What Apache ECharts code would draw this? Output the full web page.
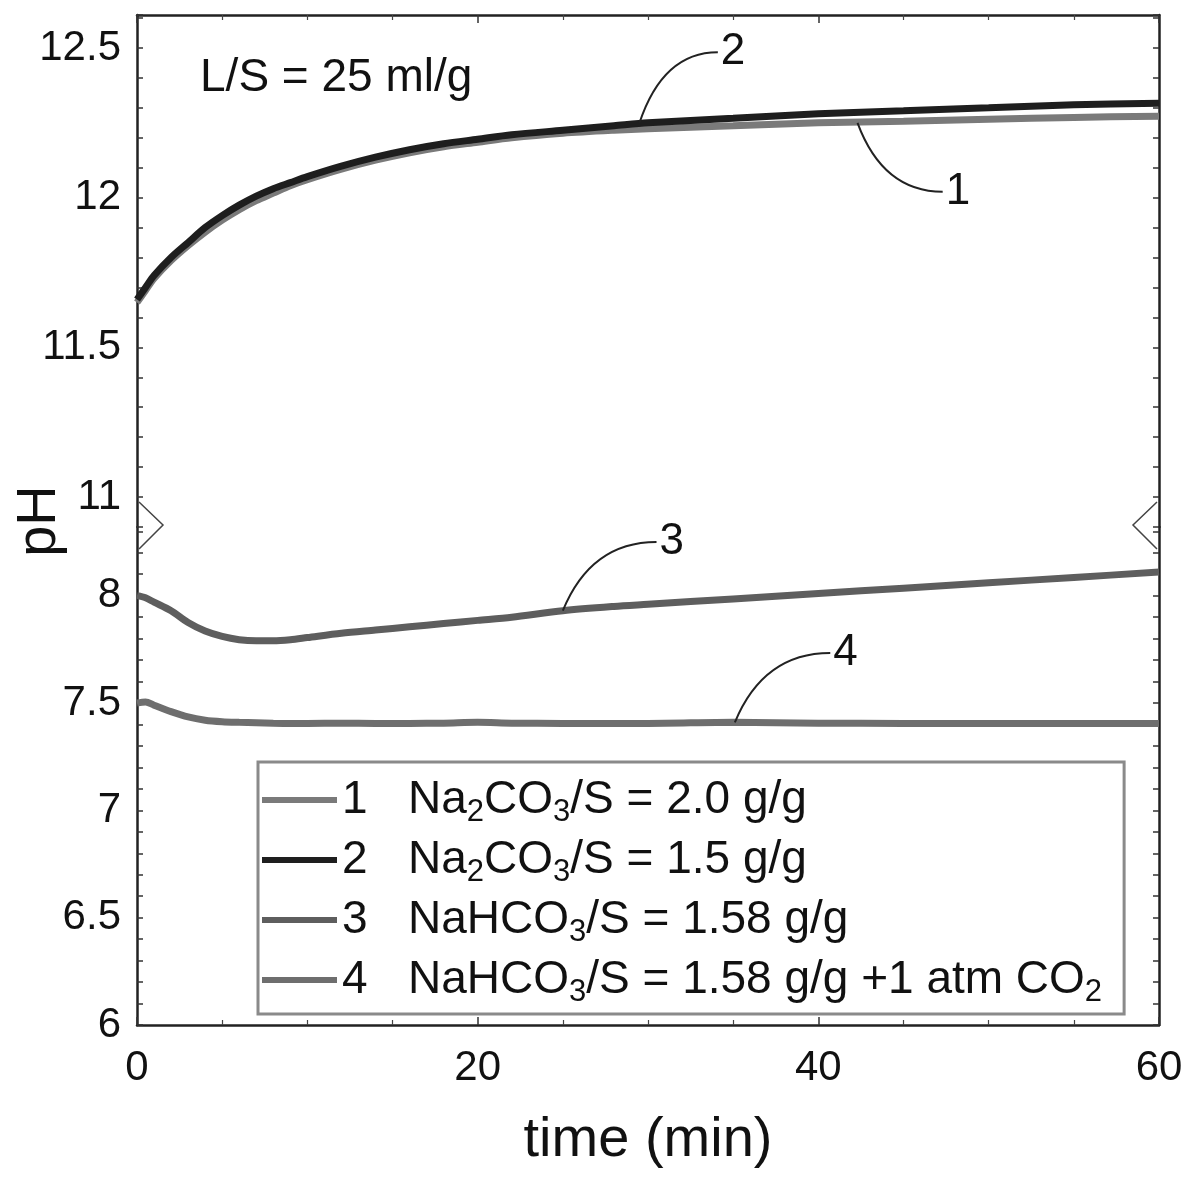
<!DOCTYPE html>
<html>
<head>
<meta charset="utf-8">
<script src="https://cdn.jsdelivr.net/npm/echarts@6/dist/echarts.min.js"></script>
<style>
  html, body { margin: 0; padding: 0; background: #fff; }
  #main { width: 1186px; height: 1191px; }
</style>
</head>
<body>
<div id="main"></div>
<script>
// time (min)
var time = [0, 0.5, 1, 2, 3, 4, 5, 6, 7, 8, 9, 10, 12, 14, 16, 18, 20, 22, 25, 28, 30, 35, 40, 45, 50, 55, 60];

// pH, upper panel
var ph1 = [11.65, 11.69, 11.73, 11.79, 11.84, 11.885, 11.925, 11.96, 11.99, 12.015, 12.04, 12.06, 12.095, 12.125, 12.15, 12.17, 12.185, 12.2, 12.215, 12.225, 12.23, 12.24, 12.25, 12.255, 12.262, 12.268, 12.272];
var ph2 = [11.66, 11.70, 11.74, 11.80, 11.85, 11.90, 11.94, 11.975, 12.005, 12.03, 12.05, 12.07, 12.105, 12.135, 12.16, 12.18, 12.195, 12.21, 12.225, 12.24, 12.25, 12.265, 12.28, 12.29, 12.30, 12.31, 12.315];
// pH, lower panel
var ph3 = [8.0, 7.99, 7.97, 7.93, 7.875, 7.835, 7.81, 7.795, 7.79, 7.79, 7.795, 7.805, 7.825, 7.84, 7.855, 7.87, 7.885, 7.90, 7.93, 7.95, 7.96, 7.985, 8.01, 8.035, 8.06, 8.085, 8.11];
var ph4 = [7.5, 7.505, 7.49, 7.46, 7.435, 7.42, 7.413, 7.41, 7.408, 7.406, 7.405, 7.405, 7.406, 7.405, 7.405, 7.406, 7.41, 7.406, 7.405, 7.405, 7.405, 7.41, 7.406, 7.405, 7.405, 7.405, 7.405];

var names = ['Na2CO3/S = 2.0 g/g', 'Na2CO3/S = 1.5 g/g', 'NaHCO3/S = 1.58 g/g', 'NaHCO3/S = 1.58 g/g +1 atm CO2'];
var richNames = ['Na{s|2}CO{s|3}/S = 2.0 g/g', 'Na{s|2}CO{s|3}/S = 1.5 g/g', 'NaHCO{s|3}/S = 1.58 g/g', 'NaHCO{s|3}/S = 1.58 g/g +1 atm CO{s|2}'];
var nums = ['1', '2', '3', '4'];
var colors = ['#7a7a7a', '#1e1e1e', '#5e5e5e', '#6e6e6e'];

// curve labels: point on curve -> end of leader (time, pH)
var tagFrom = [[42.3, 12.25], [29.5, 12.25], [25, 7.93], [35.1, 7.41]];
var tagTo = [[47.3, 12.02], [34.1, 12.486], [30.5, 8.25], [40.7, 7.733]];
var tagPanel = [0, 0, 1, 1];

var FONT = "'Liberation Sans', Arial, sans-serif";
var INK = '#111';

var chart = echarts.init(document.getElementById('main'));

function pairs(ys) {
  return time.map(function (t, i) { return [t, ys[i]]; });
}

function phLabel(v) {
  if (Math.abs(v * 2 - Math.round(v * 2)) < 1e-6) return String(+v.toFixed(1));
  return '';
}

function yAx(grid, min, max, pos) {
  return {
    type: 'value', gridIndex: grid, position: pos, min: min, max: max, interval: 0.1,
    axisLine: { show: true, lineStyle: { color: '#222', width: 2.5 } },
    axisTick: { show: true, inside: true, length: 6, lineStyle: { color: '#333', width: 1.5 } },
    axisLabel: {
      show: pos === 'left', margin: 16, fontSize: 42, color: INK, fontFamily: FONT,
      showMinLabel: true, showMaxLabel: true, formatter: phLabel
    },
    splitLine: { show: false }
  };
}

function xAx(grid, pos) {
  return {
    type: 'value', gridIndex: grid, position: pos, min: 0, max: 60, interval: 20,
    axisLine: { show: true, lineStyle: { color: '#222', width: 2.5 } },
    axisTick: { show: true, inside: true, length: 8, lineStyle: { color: '#333', width: 1.5 } },
    minorTick: { show: true, splitNumber: 4, length: 5, lineStyle: { color: '#444', width: 1.2 } },
    axisLabel: { show: pos === 'bottom', margin: 22, fontSize: 42, color: INK, fontFamily: FONT },
    splitLine: { show: false },
    name: pos === 'bottom' ? 'time (min)' : '',
    nameLocation: 'middle', nameGap: 88,
    nameTextStyle: { fontSize: 56, color: INK, fontFamily: FONT }
  };
}

function line(i, grid, ys) {
  return {
    name: names[i], type: 'line', xAxisIndex: grid, yAxisIndex: grid * 2,
    data: pairs(ys), smooth: 0.3, showSymbol: false, symbol: 'none',
    lineStyle: { color: colors[i], width: 7 }, itemStyle: { color: colors[i] },
    z: i === 1 ? 4 : 3
  };
}

var option = {
  backgroundColor: '#fff',
  animation: false,
  grid: [
    { left: 137, right: 27, top: 15, height: 512, outerBoundsMode: 'none' },
    { left: 137, right: 27, top: 527, height: 498, outerBoundsMode: 'none' }
  ],
  xAxis: [xAx(0, 'top'), xAx(1, 'bottom')],
  yAxis: [
    yAx(0, 10.9, 12.61, 'left'), yAx(0, 10.9, 12.61, 'right'),
    yAx(1, 6, 8.32, 'left'), yAx(1, 6, 8.32, 'right')
  ],
  legend: {
    orient: 'vertical', left: 258, top: 762,
    padding: [10, 22, 6, 4], itemGap: 4, itemWidth: 75, itemHeight: 6, icon: 'rect',
    borderColor: '#8a8a8a', borderWidth: 3, backgroundColor: '#fff',
    data: names,
    formatter: function (name) {
      var i = names.indexOf(name);
      return '{n|' + nums[i] + '}' + richNames[i];
    },
    textStyle: {
      fontSize: 46, lineHeight: 56, color: INK, fontFamily: FONT,
      rich: {
        n: { fontSize: 46, width: 66, lineHeight: 56, color: INK, fontFamily: FONT },
        s: { fontSize: 31, lineHeight: 22, verticalAlign: 'bottom', color: INK, fontFamily: FONT }
      }
    }
  },
  series: [line(0, 0, ph1), line(1, 0, ph2), line(2, 1, ph3), line(3, 1, ph4)]
};

chart.setOption(option);

// annotations placed from data coordinates
function px(panel, p) {
  return chart.convertToPixel({ xAxisIndex: panel, yAxisIndex: panel * 2 }, p);
}

var g = [];
tagFrom.forEach(function (from, i) {
  var s = px(tagPanel[i], from);
  var e = px(tagPanel[i], tagTo[i]);
  g.push({
    type: 'bezierCurve', z: 10,
    shape: { x1: s[0], y1: s[1], x2: e[0], y2: e[1], cpx1: s[0] + 0.3 * (e[0] - s[0]), cpy1: e[1] },
    style: { stroke: '#222', lineWidth: 2, fill: null }
  });
  g.push({
    type: 'text', z: 10, x: e[0] + 3, y: e[1],
    style: { text: nums[i], fontSize: 44, fontFamily: FONT, fill: INK, textVerticalAlign: 'middle', textAlign: 'left' }
  });
});

// axis break marks
var brk = px(0, [0, 10.9]);
var brkR = px(0, [60, 10.9]);
var by = brk[1];
g.push({
  type: 'polyline', z: 10,
  shape: { points: [[brk[0] + 2, by - 25], [brk[0] + 26, by - 2], [brk[0] + 2, by + 22]] },
  style: { stroke: '#444', lineWidth: 1.5, fill: null }
});
g.push({
  type: 'polyline', z: 10,
  shape: { points: [[brkR[0] - 2, by - 25], [brkR[0] - 26, by - 2], [brkR[0] - 2, by + 22]] },
  style: { stroke: '#444', lineWidth: 1.5, fill: null }
});

// y axis name, centred on the break
g.push({
  type: 'text', x: 40, y: by - 6, rotation: Math.PI / 2,
  style: { text: 'pH', fontSize: 56, fontFamily: FONT, fill: INK, textAlign: 'center', textVerticalAlign: 'middle' }
});

// L/S note
var ls = px(0, [3.7, 12.4]);
g.push({
  type: 'text', x: ls[0], y: ls[1],
  style: { text: 'L/S = 25 ml/g', fontSize: 46, fontFamily: FONT, fill: INK, textAlign: 'left', textVerticalAlign: 'middle' }
});

chart.setOption({ graphic: g });
</script>
</body>
</html>
